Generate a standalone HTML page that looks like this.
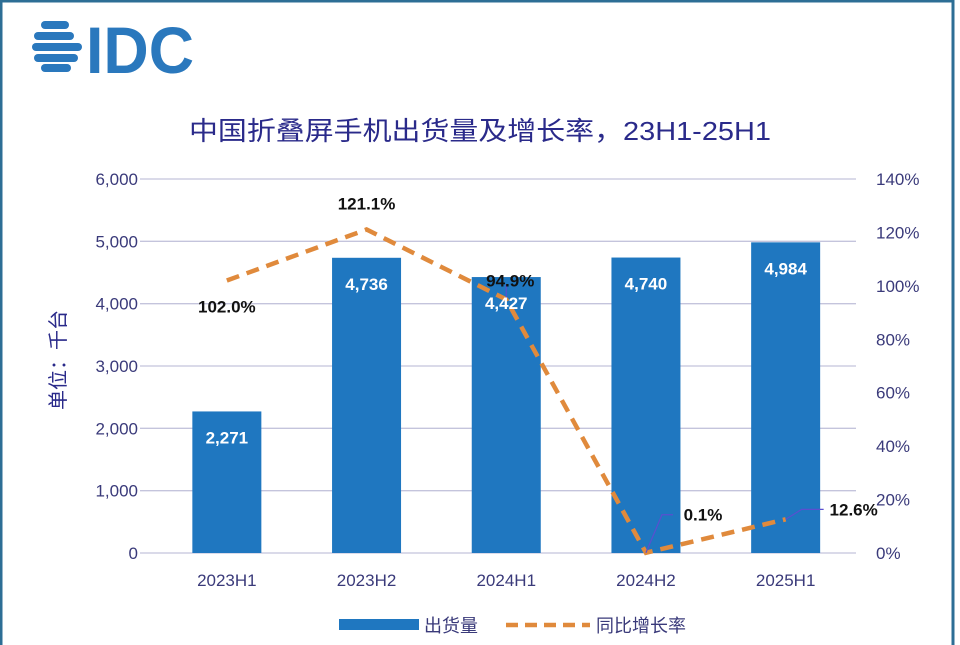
<!DOCTYPE html>
<html><head><meta charset="utf-8"><style>
body{margin:0;background:#fff}
#wrap{position:relative;width:960px;height:645px;overflow:hidden;background:#fff;font-family:"Liberation Sans","Noto Sans CJK SC",sans-serif}
</style></head><body>
<div id="wrap">
<svg id="svg" width="960" height="645" xmlns="http://www.w3.org/2000/svg">
<rect x="1" y="1" width="952" height="650" fill="none" stroke="#2d6e95" stroke-width="3"/>
<g fill="#2a78bd">
<rect x="41" y="21" width="28" height="8" rx="4"/>
<rect x="34" y="32" width="40" height="8" rx="4"/>
<rect x="32" y="43" width="50" height="8" rx="4"/>
<rect x="34" y="54" width="44" height="8" rx="4"/>
<rect x="41" y="64" width="30" height="8" rx="4"/>
<text x="86" y="73" font-size="66" font-weight="bold" fill="#2a78bd" textLength="108" lengthAdjust="spacingAndGlyphs" font-family="Liberation Sans,sans-serif">IDC</text>
</g>
<text x="480" y="140" text-anchor="middle" font-size="26" fill="#2a2a8a" textLength="582" lengthAdjust="spacingAndGlyphs">中国折叠屏手机出货量及增长率，23H1-25H1</text>
<text transform="translate(65,360) rotate(-90)" text-anchor="middle" font-size="20" fill="#2a2a8a">单位：千台</text>
<g id="grid"></g><g id="bars"></g><g id="line"></g><g id="labels"></g>
<g>
<rect x="339" y="619" width="80" height="11" fill="#1f77c0"/>
<text x="424" y="632" font-size="18" fill="#3a3a7a">出货量</text>
<line x1="506" y1="625" x2="590" y2="625" stroke="#e08a3c" stroke-width="4.5" stroke-dasharray="12,7"/>
<text x="596" y="632" font-size="18" fill="#3a3a7a">同比增长率</text>
</g>
</svg>
<script>
const categories=["2023H1","2023H2","2024H1","2024H2","2025H1"];
const shipments=[2271,4736,4427,4740,4984];
const growth=[102.0,121.1,94.9,0.1,12.6];
const leftTicks=[0,1000,2000,3000,4000,5000,6000];
const rightTicks=[0,20,40,60,80,100,120,140];
const NS="http://www.w3.org/2000/svg";
const X0=157,STEP=139.7,Y0=553,Y1=179;
const xc=i=>X0+STEP*(i+0.5);
const yL=v=>Y0-(v/6000)*(Y0-Y1);
const yR=v=>Y0-(v/140)*(Y0-Y1);
function mk(tag,attrs,parent,txt){const e=document.createElementNS(NS,tag);for(const k in attrs)e.setAttribute(k,attrs[k]);if(txt!==undefined)e.textContent=txt;parent.appendChild(e);return e;}
const g=document.getElementById('grid'),b=document.getElementById('bars'),l=document.getElementById('line'),lb=document.getElementById('labels');
leftTicks.forEach(t=>{
 const y=yL(t);
 const ln=mk('line',{x1:140,x2:856,y1:y,y2:y,stroke:'#c4c4dc','stroke-width':1.3},g);
 
 
 const tx=mk('text',{x:138,y:y+6,'text-anchor':'end','font-size':17,fill:'#3a3a7a'},g,t.toLocaleString('en-US'));
 
 
});
rightTicks.forEach(t=>{
 const tx=mk('text',{x:876,y:yR(t)+6,'font-size':17,fill:'#3a3a7a'},g,t+'%');
 
 
});
categories.forEach((c,i)=>{
 const tx=mk('text',{x:xc(i),y:586,'text-anchor':'middle','font-size':17,fill:'#3a3a7a'},g,c);
 
 
 const r=mk('rect',{x:xc(i)-34.5,y:yL(shipments[i]),width:69,height:Y0-yL(shipments[i]),fill:'#1f77c0'},b);
 
 
 const v=mk('text',{x:xc(i),y:yL(shipments[i])+32,'text-anchor':'middle','font-size':17,'font-weight':'bold',fill:'#fff'},lb,shipments[i].toLocaleString('en-US'));
 
 
});
const pts=growth.map((v,i)=>xc(i)+','+yR(v)).join(' ');
const pl=mk('polyline',{points:pts,fill:'none',stroke:'#e08a3c','stroke-width':4.5,'stroke-dasharray':'13,8'},l);


const off=[[0,26],[0,-26],[4,-19],[57,-38],[68,-10]];
growth.forEach((v,i)=>{
 const x0=xc(i),y0=yR(v),lx=x0+off[i][0],ly=y0+off[i][1];
 if(i>=2){const ld=mk('polyline',{points:i===2?`${x0},${y0} ${lx-4},${ly+8} ${lx-4},${ly+4}`:`${x0},${y0} ${x0+16},${ly} ${lx-30},${ly}`,fill:'none',stroke:'#5a4fd0','stroke-width':1.2},l);
 
 }
 const t=mk('text',{x:lx,y:ly+6,'text-anchor':'middle','font-size':17,'font-weight':'bold',fill:'#111'},lb,v.toFixed(1)+'%');
 
 
});
</script>
</div>
</body></html>
